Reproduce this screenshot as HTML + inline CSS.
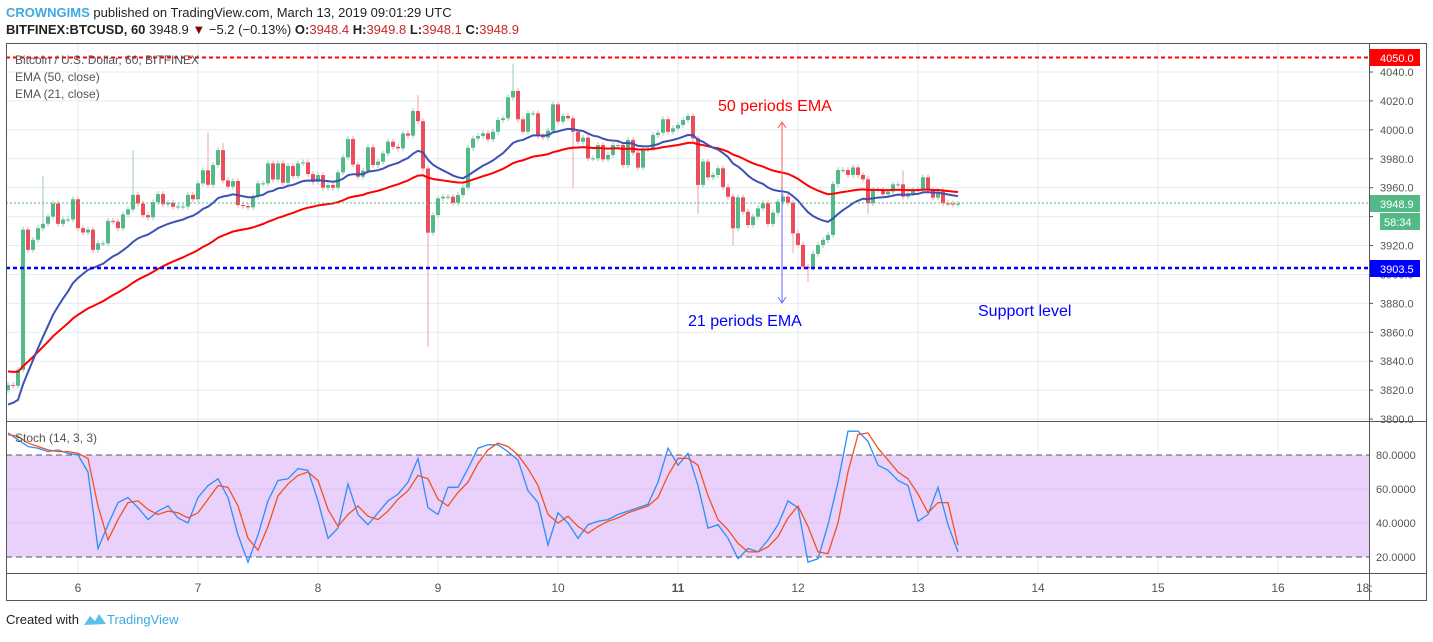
<!DOCTYPE html>
<html><head><meta charset="utf-8"><style>
body{margin:0;background:#fff;width:1433px;height:637px;overflow:hidden;font-family:"Liberation Sans",sans-serif}
svg text{font-family:"Liberation Sans",sans-serif}
</style></head><body>
<svg id="c" width="1433" height="637" xmlns="http://www.w3.org/2000/svg">
<text x="6" y="17" font-size="13"><tspan fill="#3fa9e0" font-weight="bold">CROWNGIMS</tspan><tspan fill="#222"> published on TradingView.com, March 13, 2019 09:01:29 UTC</tspan></text>
<text x="6" y="34" font-size="13" font-weight="bold" fill="#222">BITFINEX:BTCUSD, 60 <tspan font-weight="normal">3948.9 </tspan><tspan fill="#8b0000">▼</tspan><tspan font-weight="normal"> −5.2 (−0.13%) </tspan>O:<tspan fill="#c62828" font-weight="normal">3948.4</tspan> H:<tspan fill="#c62828" font-weight="normal">3949.8</tspan> L:<tspan fill="#c62828" font-weight="normal">3948.1</tspan> C:<tspan fill="#c62828" font-weight="normal">3948.9</tspan></text>
<g id="grid"></g>
<rect x="6" y="455" width="1363" height="102" fill="#e9d1fb"/>
<line x1="6" y1="489" x2="1369" y2="489" stroke="#d9c3f0"/>
<line x1="6" y1="523" x2="1369" y2="523" stroke="#d9c3f0"/>
<line x1="6" y1="455" x2="1369" y2="455" stroke="#555" stroke-dasharray="6,4"/>
<line x1="6" y1="557" x2="1369" y2="557" stroke="#555" stroke-dasharray="6,4"/>
<g id="marks"></g>
<line x1="6" y1="57.5" x2="1369" y2="57.5" stroke="#f00" stroke-width="2" stroke-dasharray="4,3"/>
<line x1="6" y1="268" x2="1369" y2="268" stroke="#00f" stroke-width="2.5" stroke-dasharray="4,3"/>
<line x1="6" y1="203" x2="1369" y2="203" stroke="#53b987" stroke-dasharray="2,2"/>
<text x="15" y="64" font-size="12" fill="#555">Bitcoin / U.S. Dollar, 60, BITFINEX</text>
<text x="15" y="81" font-size="12" fill="#555">EMA (50, close)</text>
<text x="15" y="98" font-size="12" fill="#555">EMA (21, close)</text>
<text x="15" y="442" font-size="12" fill="#555">Stoch (14, 3, 3)</text>
<text x="718" y="111" font-size="16" fill="#f00">50 periods EMA</text>
<line x1="782" y1="190" x2="782" y2="123" stroke="#f55"/>
<path d="M778,128 L782,122 L786,128" fill="none" stroke="#f55"/>
<text x="688" y="326" font-size="16" fill="#00f">21 periods EMA</text>
<line x1="782" y1="188" x2="782" y2="302" stroke="#66f"/>
<path d="M778,297 L782,303 L786,297" fill="none" stroke="#66f"/>
<text x="978" y="316" font-size="16" fill="#00f">Support level</text>
<rect x="1369.5" y="43" width="57" height="557" fill="#fff"/>
<g id="axes"></g>
<rect x="1370" y="49" width="50" height="17" fill="#f00"/>
<text x="1380" y="62" font-size="11" fill="#fff">4050.0</text>
<rect x="1370" y="195" width="50" height="17" fill="#53b987"/>
<text x="1380" y="208" font-size="11" fill="#fff">3948.9</text>
<rect x="1380" y="213" width="40" height="17" fill="#53b987"/>
<text x="1384" y="226" font-size="11" fill="#fff">58:34</text>
<rect x="1370" y="260" width="50" height="17" fill="#00f"/>
<text x="1380" y="273" font-size="11" fill="#fff">3903.5</text>
<rect x="6.5" y="43.5" width="1420" height="557" fill="none" stroke="#555"/>
<line x1="1369.5" y1="43" x2="1369.5" y2="600" stroke="#555"/>
<line x1="6" y1="421.5" x2="1427" y2="421.5" stroke="#555"/>
<line x1="6" y1="573.5" x2="1427" y2="573.5" stroke="#555"/>
<text x="6" y="624" font-size="13" fill="#222">Created with</text>
<path d="M84,625 L90,616 L95,621 L99,614 L106,624 Z" fill="#5bc0eb"/>
<text x="107" y="624" font-size="13" fill="#3fa9e0">TradingView</text>
</svg>
<script>
const closes=[3823.5,3823,3834,3931,3917,3924,3932,3935,3940,3949,
3935,3938,3938,3952,3932,3929,3931,3917,3921.5,3921.5,
3937,3936.5,3932,3941.5,3945,3955,3949,3941,3939.5,3950,
3955.6,3948.5,3949.6,3946.8,3947,3947,3955,3952,3963,3972,
3962,3975.7,3986,3965,3960.7,3964.6,3948,3947.3,3946.4,3953.8,
3963,3963,3976.8,3965.7,3976.8,3963.4,3975,3968,3976.8,3977.5,
3969.4,3964,3968.7,3960,3961.8,3960,3970.6,3981,3993.6,3976,
3967.6,3971.7,3987.9,3975.7,3978,3983.7,3991.8,3988.3,3987.2,3997.5,
3996,4013,4006,3973.3,3928.9,3941,3952.6,3953.7,3953.7,3949.6,
3954.9,3960,3987.6,3994,3995.7,3997.6,3993.4,3998.7,4006.8,4008,
4022.5,4026.9,4007.3,3998.7,4011.4,4011.4,3995.7,3994.8,3999.4,4017.6,
4005.7,4009.6,4008,3998.7,3991.8,3994.6,3980.3,3980.3,3989.5,3979.6,
3982.6,3989.5,3989.5,3975.7,3993,3984.2,3973.9,3986.5,3987.2,3996.4,
3998,4007.3,3998.7,4001,4003.4,4006.8,4009.6,3994.1,3961.9,3978,
3967.2,3968.8,3973.4,3960.3,3953.8,3931.9,3953.3,3943.4,3934.2,3940,
3945.7,3949.2,3934.9,3942.7,3950.3,3953.8,3949.6,3928.4,3920.4,3905.4,
3904.3,3914.2,3920.4,3923.8,3927.3,3962.6,3972.2,3972.2,3968.8,3974,
3968.8,3965.8,3949.2,3958.4,3958.4,3955.4,3957.3,3962.3,3962.3,3953.8,
3956.1,3958.4,3958,3967.2,3958.4,3953.1,3957.3,3949.2,3949,3948.4,3948.9];
const firstOpen=3820;
const spikes=[[7,3968,null],[25,3986,null],[40,3998,null],[43,3991,null],[82,4024,null],[84,null,3850],[101,4046,null],[113,null,3960],[138,null,3942],[145,null,3920],[157,null,3915],[160,null,3895],[172,null,3942],[179,3972,null]];
const stochK=[93,89,85,84,82,83,81,80,70,25,39,52,55,49,42,47,50,43,40,55,62,66,55,33,17,33,53,65,66,72,71,53,31,37,63,45,39,46,53,57,64,78,49,45,61,61,72,84,86,86,82,77,59,52,27,46,40,31,39,41,42,45,47,49,51,64,84,74,81,62,37,39,31,19,25,23,30,39,53,49,17,19,39,64,94,94,88,74,71,65,62,41,45,61,39,23];
const stochD=[92,91,87,85,83,82,82,81,78,50,30,42,52,53,48,45,47,46,43,46,54,62,61,50,31,24,38,56,63,68,70,65,48,38,45,50,44,42,47,54,59,68,66,54,50,58,64,75,83,87,85,80,72,62,45,40,44,38,34,38,41,43,46,48,50,55,68,78,78,74,56,42,36,28,23,23,26,32,43,50,38,23,22,40,70,92,93,84,77,70,66,57,46,52,52,27];
const priceTicks=[3800,3820,3840,3860,3880,3900,3920,3940,3960,3980,4000,4020,4040];
const stochTicks=[20,40,60,80];
const dayLabels=['6','7','8','9','10','11','12','13','14','15','16'];
const ema21Seed=3810, ema50Seed=3833;

const NS='http://www.w3.org/2000/svg';
const py=p=>72+(4040-p)*1.446;
const cx=i=>8+5*i;
const sy=v=>455+(80-v)*1.7;
const sx=j=>8+10*j;
const dx=k=>78+120*k;
function mk(tag,attrs,parent){const e=document.createElementNS(NS,tag);for(const k in attrs)e.setAttribute(k,attrs[k]);parent.appendChild(e);return e;}
const grid=document.getElementById('grid'),marks=document.getElementById('marks'),axes=document.getElementById('axes');
priceTicks.forEach(p=>{
 const l=mk('line',{x1:6,x2:1369,y1:py(p),y2:py(p),stroke:'#e4ecf2'},grid);
 
 
});
dayLabels.forEach((d,k)=>{
 const l=mk('line',{x1:dx(k),x2:dx(k),y1:43,y2:573,stroke:'#e4ecf2'},grid);
 
 
});
// candles
const spikeMap={};spikes.forEach(s=>spikeMap[s[0]]=s);
closes.forEach((c,i)=>{
 const o=i===0?firstOpen:closes[i-1];
 const up=c>=o;
 let hi=Math.max(o,c)+2, lo=Math.min(o,c)-2;
 if(spikeMap[i]){if(spikeMap[i][1]!==null)hi=spikeMap[i][1];if(spikeMap[i][2]!==null)lo=spikeMap[i][2];}
 const w=mk('line',{x1:cx(i),x2:cx(i),y1:py(hi),y2:py(lo),stroke:up?'#9cc9c3':'#f0a0a8'},marks);
 
 
 const top=py(Math.max(o,c)),bot=py(Math.min(o,c));
 const b=mk('rect',{x:cx(i)-2,y:top,width:4,height:Math.max(1,bot-top),fill:up?'#53b987':'#eb4d5c'},marks);
 
 
});
function ema(seed,n){const a=2/(n+1);let e=seed;return closes.map((c,i)=>{if(i>0)e=e+a*(c-e);return e;});}
const e50=ema(ema50Seed,50),e21=ema(ema21Seed,21);
const p50=mk('polyline',{points:e50.map((v,i)=>cx(i)+','+py(v)).join(' '),fill:'none',stroke:'#f00','stroke-width':2},marks);


const p21=mk('polyline',{points:e21.map((v,i)=>cx(i)+','+py(v)).join(' '),fill:'none',stroke:'#3f51b5','stroke-width':2},marks);


const pk=mk('polyline',{points:stochK.map((v,j)=>sx(j)+','+sy(v)).join(' '),fill:'none',stroke:'#2e8ef5','stroke-width':1.3},marks);


const pd=mk('polyline',{points:stochD.map((v,j)=>sx(j)+','+sy(v)).join(' '),fill:'none',stroke:'#f4511e','stroke-width':1.3},marks);


priceTicks.forEach(p=>{
 const t=mk('text',{x:1380,y:py(p)+4,'font-size':11,fill:'#555'},axes);t.textContent=p.toFixed(1);
 
 
 const k=mk('line',{x1:1369,x2:1373,y1:py(p),y2:py(p),stroke:'#555'},axes);
 
 
});
stochTicks.forEach(v=>{
 const t=mk('text',{x:1376,y:sy(v)+4,'font-size':11,fill:'#555'},axes);t.textContent=v.toFixed(4);
 
 
});
dayLabels.forEach((d,k)=>{
 const t=mk('text',{x:dx(k),y:592,'font-size':12,fill:'#555','text-anchor':'middle','font-weight':d==='11'?'bold':'normal'},axes);t.textContent=d;
 
 
});
const t18=mk('text',{x:1356,y:592,'font-size':12,fill:'#555'},axes);t18.textContent='18:';


</script>
</body></html>
